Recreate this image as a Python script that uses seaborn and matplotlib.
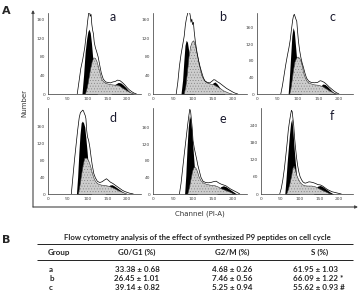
import numpy as np
import matplotlib
matplotlib.use("Agg")
import matplotlib.pyplot as plt
import seaborn as sns

sns.set_style("white")
plt.rcParams["font.family"] = ["Lato", "DejaVu Sans"]
plt.rcParams["hatch.linewidth"] = 0.3

# histogram outlines: (channel, count)
A_ENV = [(74, 0), (79, 30), (83, 55), (88, 75), (93, 100), (97, 130), (100, 155), (103, 175), (105, 178),
         (107, 168), (109, 172), (111, 150), (113, 138), (115, 130), (117, 112), (120, 100), (123, 92),
         (127, 80), (131, 62), (135, 45), (140, 32), (146, 26), (152, 25), (158, 24), (164, 26), (170, 27),
         (176, 30), (182, 29), (188, 25), (194, 20), (200, 14), (206, 9), (212, 5), (218, 2), (224, 0)]
A_G1 = [(86, 0), (90, 40), (94, 90), (98, 120), (101, 135), (104, 140), (107, 132), (110, 110), (113, 80),
        (116, 50), (120, 20), (125, 0)]
A_S = [(95, 0), (100, 15), (104, 35), (108, 55), (112, 70), (116, 78), (120, 77), (124, 70), (128, 58),
       (132, 45), (136, 32), (142, 25), (150, 22), (160, 20), (170, 19), (176, 19), (182, 17), (190, 12),
       (198, 8), (206, 4), (214, 1), (218, 0)]
A_G2 = [(160, 0), (165, 18), (172, 22), (178, 25), (184, 24), (190, 20), (196, 15), (202, 9), (208, 4),
        (214, 1), (218, 0)]

B_ENV = [(58, 0), (62, 25), (66, 60), (70, 85), (74, 105), (78, 125), (81, 150), (84, 165), (87, 175),
         (90, 182), (93, 170), (95, 155), (97, 162), (99, 150), (101, 155), (103, 135), (106, 112),
         (110, 90), (114, 72), (118, 58), (122, 46), (126, 35), (130, 28), (136, 25), (142, 24), (148, 28),
         (152, 31), (156, 30), (160, 27), (166, 24), (172, 20), (178, 16), (184, 12), (190, 9), (196, 6),
         (202, 3), (208, 1), (212, 0)]
B_G1 = [(70, 0), (74, 30), (77, 70), (80, 105), (83, 116), (86, 112), (89, 95), (92, 78), (96, 50),
        (100, 25), (104, 0)]
B_S = [(78, 0), (82, 15), (86, 45), (90, 80), (94, 102), (98, 112), (102, 115), (106, 105), (110, 88),
       (114, 72), (118, 55), (122, 40), (128, 30), (135, 24), (145, 21), (152, 20), (160, 16), (168, 12),
       (176, 7), (184, 4), (192, 1), (198, 0)]
B_G2 = [(142, 0), (146, 16), (150, 24), (155, 26), (160, 22), (165, 16), (170, 9), (175, 4), (180, 0)]

C_ENV = [(58, 0), (62, 20), (66, 45), (70, 70), (74, 92), (78, 112), (81, 130), (84, 155), (87, 178),
         (89, 188), (91, 192), (93, 186), (95, 180), (97, 175), (99, 150), (101, 128), (104, 105),
         (107, 88), (110, 75), (113, 65), (117, 50), (121, 38), (126, 31), (132, 28), (140, 27), (148, 28),
         (154, 32), (158, 31), (164, 28), (170, 23), (176, 17), (182, 12), (188, 7), (194, 3), (200, 0)]
C_G1 = [(76, 0), (79, 40), (82, 90), (85, 140), (88, 160), (91, 150), (94, 115), (97, 80), (100, 50),
        (104, 20), (108, 0)]
C_S = [(80, 0), (84, 20), (88, 50), (92, 75), (96, 85), (100, 89), (104, 86), (108, 78), (111, 65),
       (114, 50), (118, 38), (123, 29), (130, 25), (140, 22), (150, 21), (160, 18), (168, 13), (176, 8),
       (184, 4), (190, 1), (195, 0)]
C_G2 = [(150, 0), (155, 18), (160, 24), (166, 23), (172, 18), (178, 12), (184, 6), (190, 2), (194, 0)]

D_ENV = [(59, 0), (63, 40), (67, 80), (71, 115), (75, 150), (79, 180), (82, 192), (85, 195), (88, 198),
         (90, 196), (92, 190), (94, 186), (96, 178), (98, 150), (100, 135), (103, 126), (106, 110),
         (109, 88), (112, 68), (116, 48), (120, 38), (125, 30), (131, 27), (137, 29), (143, 33), (148, 36),
         (152, 33), (158, 28), (164, 25), (170, 21), (176, 17), (182, 13), (188, 9), (194, 6), (200, 4),
         (206, 2), (212, 1), (216, 0)]
D_G1 = [(72, 0), (75, 40), (78, 95), (81, 140), (84, 168), (87, 172), (90, 168), (93, 158), (96, 130),
        (99, 100), (102, 65), (106, 30), (110, 0)]
D_S = [(77, 0), (81, 20), (85, 45), (89, 68), (93, 84), (97, 85), (100, 83), (104, 76), (108, 65),
       (112, 50), (116, 38), (120, 30), (126, 24), (135, 21), (145, 20), (155, 18), (163, 15), (170, 12),
       (178, 8), (186, 5), (194, 2), (200, 0)]
D_G2 = [(145, 0), (150, 15), (156, 21), (162, 22), (168, 19), (174, 15), (180, 11), (186, 7), (192, 3),
        (198, 0)]

E_ENV = [(66, 0), (70, 25), (74, 60), (78, 95), (81, 120), (84, 145), (87, 170), (90, 192), (92, 205),
         (94, 200), (96, 180), (98, 160), (100, 130), (103, 112), (106, 98), (109, 85), (112, 70),
         (116, 55), (120, 40), (125, 31), (131, 28), (138, 27), (145, 28), (152, 30), (158, 31), (164, 27),
         (170, 24), (176, 22), (182, 20), (188, 16), (194, 12), (200, 9), (206, 6), (212, 3), (217, 0)]
E_G1 = [(79, 0), (82, 45), (85, 110), (88, 160), (91, 190), (94, 180), (97, 150), (100, 110), (103, 70),
        (106, 35), (110, 0)]
E_S = [(87, 0), (91, 15), (95, 35), (99, 55), (103, 65), (107, 63), (111, 55), (115, 42), (120, 32),
       (127, 26), (135, 23), (145, 21), (155, 20), (163, 17), (170, 13), (178, 10), (186, 7), (194, 4),
       (200, 1), (203, 0)]
E_G2 = [(160, 0), (164, 12), (170, 18), (176, 20), (182, 18), (188, 14), (194, 10), (200, 6), (206, 2),
        (210, 0)]

F_ENV = [(48, 0), (52, 20), (56, 50), (60, 90), (64, 140), (67, 180), (70, 225), (73, 255), (76, 280),
         (78, 295), (80, 290), (82, 265), (84, 240), (86, 200), (88, 170), (91, 130), (94, 100), (97, 78),
         (100, 62), (104, 50), (108, 42), (113, 38), (118, 40), (123, 43), (128, 42), (134, 40), (140, 37),
         (146, 33), (152, 32), (158, 28), (164, 22), (170, 16), (176, 12), (182, 8), (188, 6), (194, 4),
         (200, 2), (206, 0)]
F_G1 = [(61, 0), (64, 50), (67, 110), (70, 160), (73, 210), (76, 250), (79, 265), (82, 220), (85, 160),
        (88, 110), (91, 65), (95, 25), (99, 0)]
F_S = [(66, 0), (70, 15), (74, 35), (78, 60), (82, 90), (85, 98), (88, 85), (92, 65), (96, 52), (100, 42),
       (106, 33), (112, 29), (120, 28), (130, 28), (138, 26), (146, 21), (154, 15), (162, 10), (170, 5),
       (176, 1), (180, 0)]
F_G2 = [(135, 0), (140, 20), (146, 28), (152, 30), (158, 26), (164, 20), (170, 14), (176, 8), (182, 3),
        (186, 0)]

panel_labels = ["a", "b", "c", "d", "e", "f"]
panel_env = [A_ENV, B_ENV, C_ENV, D_ENV, E_ENV, F_ENV]
panel_g1 = [A_G1, B_G1, C_G1, D_G1, E_G1, F_G1]
panel_s = [A_S, B_S, C_S, D_S, E_S, F_S]
panel_g2 = [A_G2, B_G2, C_G2, D_G2, E_G2, F_G2]
panel_ymax = [175, 175, 195, 203, 208, 303]
panel_yticks = [[0, 40, 80, 120, 160]] * 5 + [[0, 60, 120, 180, 240]]
x_ticks = [0, 50, 100, 150, 200]

# table
groups = ["a", "b", "c"]
g0g1_mean = [33.38, 26.45, 39.14]
g0g1_sd = [0.68, 1.01, 0.82]
g2m_mean = [4.68, 7.46, 5.25]
g2m_sd = [0.26, 0.56, 0.94]
s_mean = [61.95, 66.09, 55.62]
s_sd = [1.03, 1.22, 0.93]
s_mark = ["", " *", " #"]
headers = ["Group", "G0/G1 (%)", "G2/M (%)", "S (%)"]

W, H = 359, 302
fig = plt.figure(figsize=(W / 100, H / 100), dpi=100)

# overlay in pixel coordinates for labels, arrows and the table
ov = fig.add_axes([0, 0, 1, 1])
ov.set_xlim(0, W)
ov.set_ylim(H, 0)
ov.axis("off")

# axes boxes in pixels: left, baseline, px per channel, height
boxes = [(48, 94, 0.395, 81), (153, 94, 0.40, 81), (257, 94, 0.41, 81),
         (48, 194, 0.395, 86), (153, 194, 0.40, 86), (261, 194, 0.39, 86)]
letter_pos = [(113, 17), (223, 17), (332, 17), (113, 118), (223, 119), (332, 116)]

for i, lab in enumerate(panel_labels):
    left, base, sc, hgt = boxes[i]
    wid = sc * 235
    ax = fig.add_axes([left / W, (H - base) / H, wid / W, hgt / H])
    ax.patch.set_alpha(0)

    ex, ey = zip(*panel_env[i])
    gx, gy = zip(*panel_g1[i])
    sx, sy = zip(*panel_s[i])
    g2x, g2y = zip(*panel_g2[i])

    ax.fill(ex, ey, color="white", zorder=1)
    ax.fill_between(gx, 0, gy, color="black", lw=0, zorder=2)
    ax.fill_between(g2x, 0, g2y, color="black", lw=0, zorder=2)
    ax.fill_between(sx, 0, sy, facecolor="#cdcdcd", edgecolor="#7a7a7a", hatch="......", lw=0, zorder=3)
    sns.lineplot(x=list(sx), y=list(sy), ax=ax, color="#333333", linewidth=0.4,
                 estimator=None, sort=False, zorder=4)
    sns.lineplot(x=list(ex), y=list(ey), ax=ax, color="black", linewidth=0.5,
                 estimator=None, sort=False, zorder=5)

    ax.set_xlim(0, 235)
    ax.set_ylim(0, panel_ymax[i])
    ax.set_xticks(x_ticks)
    ax.set_xticks(np.arange(0, 231, 10), minor=True)
    yt = panel_yticks[i]
    ax.set_yticks(yt)
    ax.set_yticks(np.arange(0, panel_ymax[i], (yt[1] - yt[0]) / 2), minor=True)
    ax.set_xticklabels([str(t) for t in x_ticks], family="DejaVu Sans")
    ax.set_yticklabels([str(t) for t in yt], family="DejaVu Sans")
    ax.tick_params(which="major", length=1.6, width=0.4, labelsize=3.2, pad=1.2,
                   colors="#444444", direction="inout")
    ax.tick_params(which="minor", length=0.9, width=0.3, direction="inout", colors="#444444")
    for side in ["top", "right"]:
        ax.spines[side].set_visible(False)
    for side in ["left", "bottom"]:
        ax.spines[side].set_linewidth(0.5)
        ax.spines[side].set_color("#333333")
    ax.set_xlabel("")
    ax.set_ylabel("")

    lx, ly = letter_pos[i]
    ov.text(lx, ly, lab, fontsize=9, color="#1a1a2e", ha="center", va="center")

# big frame arrows
ov.annotate("", xy=(33, 10), xytext=(33, 207),
            arrowprops=dict(arrowstyle="-|>", lw=0.8, color="#444444", mutation_scale=4, shrinkA=0, shrinkB=0))
ov.annotate("", xy=(358, 207), xytext=(33, 207),
            arrowprops=dict(arrowstyle="-|>", lw=0.8, color="#444444", mutation_scale=4, shrinkA=0, shrinkB=0))
ov.text(24, 103, "Number", rotation=90, fontsize=5, color="#333333", ha="center", va="center",
        family="DejaVu Sans")
ov.text(200, 214, "Channel (PI-A)", fontsize=5, color="#333333", ha="center", va="center",
        family="DejaVu Sans")

ov.text(2, 11, "A", fontsize=8, fontweight="bold", ha="left", va="center", family="DejaVu Sans")
ov.text(2, 240, "B", fontsize=8, fontweight="bold", ha="left", va="center", family="DejaVu Sans")

# table B
ov.text(197, 237.5, "Flow cytometry analysis of the effect of synthesized P9 peptides on cell cycle",
        fontsize=5.6, fontweight="bold", ha="center", va="center")
ov.hlines([243.5, 260], 37, 353, color="#222222", lw=0.7)
col_x = [59, 137, 232, 320]
for cx, hd in zip(col_x, headers):
    ov.text(cx, 252, hd, fontsize=5.8, fontweight="bold", ha="center", va="center")
row_y = [269, 278.5, 288]
for j, g in enumerate(groups):
    y = row_y[j]
    ov.text(49, y, g, fontsize=5.8, fontweight="bold", ha="left", va="center")
    ov.text(137, y, f"{g0g1_mean[j]:.2f} ± {g0g1_sd[j]:.2f}", fontsize=5.8, fontweight="bold",
            ha="center", va="center")
    ov.text(232, y, f"{g2m_mean[j]:.2f} ± {g2m_sd[j]:.2f}", fontsize=5.8, fontweight="bold",
            ha="center", va="center")
    ov.text(293, y, f"{s_mean[j]:.2f} ± {s_sd[j]:.2f}{s_mark[j]}", fontsize=5.8, fontweight="bold",
            ha="left", va="center")

fig.savefig("out.png", dpi=100)
